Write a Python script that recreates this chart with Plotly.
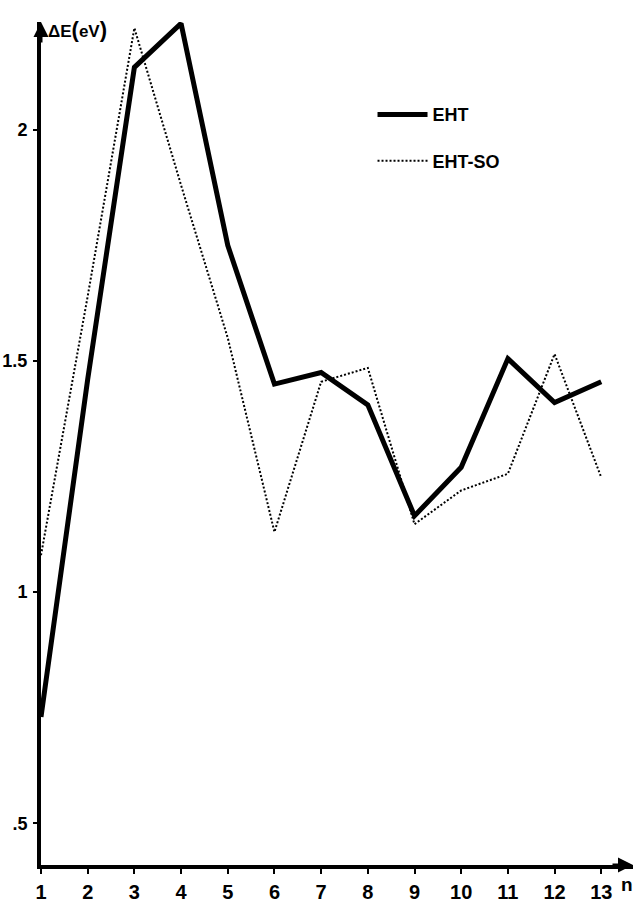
import plotly.graph_objects as go

n_values = list(range(1, 14))
eht = [0.73, 1.46, 2.135, 2.23, 1.75, 1.45, 1.475, 1.405, 1.165, 1.27, 1.505, 1.41, 1.455]
eht_so = [1.08, 1.64, 2.22, 1.88, 1.55, 1.13, 1.455, 1.485, 1.147, 1.22, 1.256, 1.515, 1.248]
x_ticks = list(range(1, 14))
x_ticktext = [str(v) for v in x_ticks]
y_ticks = [0.5, 1.0, 1.5, 2.0]
y_ticktext = [".5", "1", "1.5", "2"]

FONT = "Liberation Sans, Arial, sans-serif"

fig = go.Figure()
fig.add_trace(go.Scatter(x=n_values, y=eht, mode="lines", name="EHT",
                         line=dict(color="black", width=5), legendgroup="a"))
fig.add_trace(go.Scatter(x=n_values, y=eht_so, mode="lines", name="EHT-SO",
                         line=dict(color="black", width=2, dash="2px,2px"), legendgroup="b"))

fig.update_layout(
    width=635, height=905,
    margin=dict(l=41, r=2, t=22, b=30),
    paper_bgcolor="white", plot_bgcolor="white",
    font=dict(family=FONT, color="black"),
    showlegend=True,
    legend=dict(x=0.56, y=0.912, xanchor="left", yanchor="top",
                bgcolor="rgba(0,0,0,0)", tracegroupgap=20, itemwidth=50,
                font=dict(size=18, family=FONT, weight="bold")),
    xaxis=dict(range=[1, 13.68], showline=True, linewidth=4, linecolor="black",
               showgrid=False, zeroline=False, ticks="outside", ticklen=5, tickwidth=2,
               tickcolor="black", tickvals=x_ticks, ticktext=x_ticktext,
               tickfont=dict(size=20, weight="bold"), ticklabelstandoff=1),
    yaxis=dict(range=[0.41, 2.233], showline=True, linewidth=4, linecolor="black",
               showgrid=False, zeroline=False, ticks="outside", ticklen=4, tickwidth=2,
               tickcolor="black", tickvals=y_ticks, ticktext=y_ticktext,
               tickfont=dict(size=18, weight="bold"), ticklabelstandoff=2),
)

# axis arrowheads
fig.add_annotation(xref="paper", yref="paper", x=0, y=1, ax=0, ay=22, text="",
                   showarrow=True, arrowhead=2, arrowsize=1, arrowwidth=3, arrowcolor="black")
fig.add_annotation(xref="paper", yref="paper", x=1, y=0, ax=-22, ay=0, text="",
                   showarrow=True, arrowhead=2, arrowsize=1, arrowwidth=3, arrowcolor="black")

# axis titles
fig.add_annotation(xref="paper", yref="paper", x=0, y=1, xanchor="left", yanchor="middle",
                   xshift=5, yshift=-7, showarrow=False,
                   text="ΔE<span style='font-size:22px'>(</span>eV<span style='font-size:22px'>)</span>",
                   font=dict(size=17, family=FONT, weight="bold"))
fig.add_annotation(xref="paper", yref="paper", x=1, y=0, xanchor="right", yanchor="middle",
                   xshift=2, yshift=-19, showarrow=False, text="n",
                   font=dict(size=19, family=FONT, weight="bold"))

fig.write_html("out.html", config={"displayModeBar": False},
               post_script="document.body.style.margin='0';document.body.style.padding='0';")
